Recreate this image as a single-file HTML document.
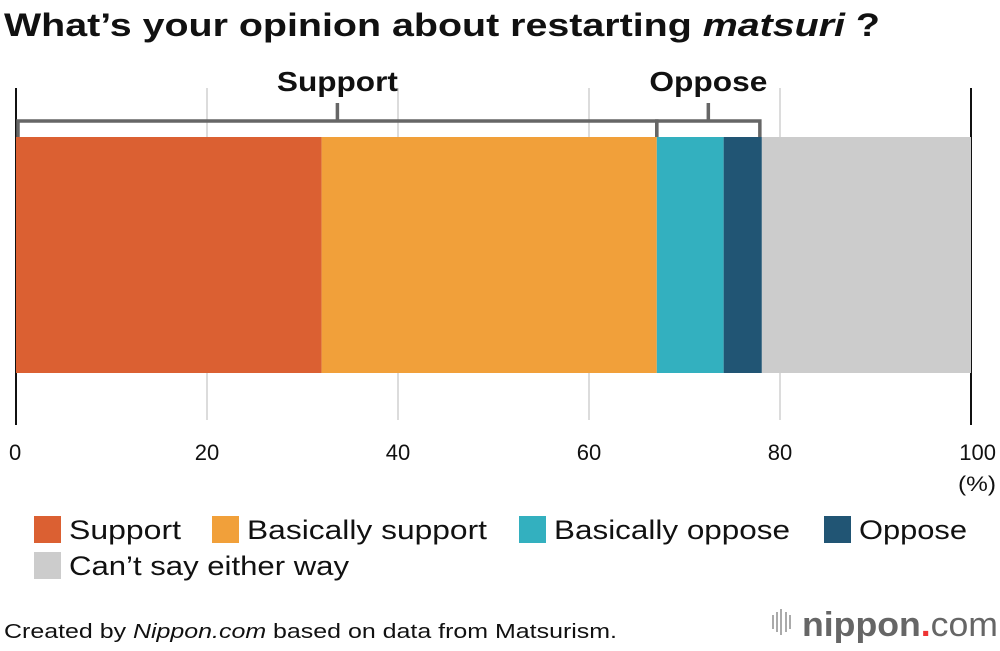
<!DOCTYPE html>
<html><head><meta charset="utf-8"><style>
body{margin:0;width:1000px;height:646px;background:#fff;overflow:hidden;font-family:"Liberation Sans",Arial,sans-serif}
</style></head><body>
<svg width="1000" height="646" xmlns="http://www.w3.org/2000/svg">
<text x="4" y="36" font-size="32" font-weight="bold" fill="#111" textLength="876" lengthAdjust="spacingAndGlyphs">What’s your opinion about restarting <tspan font-style="italic">matsuri</tspan> ?</text>
<g id="grid"></g>
<g id="bars"></g>
<g id="brackets"></g>
<g id="ticks"></g>
<text x="958" y="491" font-size="21" fill="#111" textLength="38" lengthAdjust="spacingAndGlyphs">(%)</text>
<g id="legend"></g>
<text x="4" y="638" font-size="20" fill="#111" textLength="613" lengthAdjust="spacingAndGlyphs">Created by <tspan font-style="italic">Nippon.com</tspan> based on data from Matsurism.</text>
<g>
<g fill="#aaa"><rect x="772" y="615" width="2" height="14"/><rect x="776" y="612" width="2" height="20"/><rect x="780" y="609" width="2" height="26"/><rect x="785" y="612" width="2" height="20"/><rect x="789" y="615" width="2" height="14"/></g>
<text x="802" y="636" font-size="34" fill="#666" font-weight="bold" textLength="196" lengthAdjust="spacingAndGlyphs">nippon<tspan fill="#e33">.</tspan><tspan font-weight="normal">com</tspan></text>
</g>
</svg>
<script>
const categories=["Support","Basically support","Basically oppose","Oppose","Can't say either way"];
const values=[32,35.1,7,4,21.9];
const colors=["#db6032","#f1a03a","#33b0bf","#215574","#cccccc"];
const tickValues=[0,20,40,60,80,100];
const groupLabels=["Support","Oppose"];
const groupSpans=[[0,2],[2,4]];
const NS="http://www.w3.org/2000/svg";
const x=v=>16+v*9.55;
const legW=[112,240,236,108,280];
const grpW=[121,118];
function el(t,a,p){const e=document.createElementNS(NS,t);for(const k in a)e.setAttribute(k,a[k]);document.getElementById(p).appendChild(e);return e;}
tickValues.forEach(v=>{
  const edge=(v===0||v===100);
  const g=el('line',{x1:x(v),x2:x(v),y1:88,y2:edge?425:420,stroke:edge?'#111':'#d0d0d0','stroke-width':edge?2:1.5},'grid');
  
  
  const t=el('text',{x:x(v)+(v===100?0:0),y:460,'font-size':22,'text-anchor':'middle',fill:'#111'},'ticks');
  if(v===100){t.setAttribute('text-anchor','end');t.setAttribute('x',996);}
  if(v===0){t.setAttribute('text-anchor','start');t.setAttribute('x',9);}
  t.textContent=v;
  
  
});
let cum=0;const cums=[0];
values.forEach((v,i)=>{
  const r=el('rect',{x:x(cum),y:137,width:x(cum+v)-x(cum),height:236,fill:colors[i]},'bars');
  
  
  cum+=v;cums.push(cum);
});
groupSpans.forEach((s,i)=>{
  const a=x(cums[s[0]])+(i===0?2:0),b=x(cums[s[1]])-(i===1?2:0),m=(a+b)/2;
  const p=el('path',{d:`M${a},137 V121 H${b} V137 M${m},121 V103`,fill:'none',stroke:'#666','stroke-width':3.5},'brackets');
  
  
  const t=el('text',{x:m-grpW[i]/2,y:91,'font-size':28,'font-weight':'bold',fill:'#111',textLength:grpW[i],lengthAdjust:'spacingAndGlyphs'},'brackets');
  t.textContent=groupLabels[i];
  
  
});
const legPos=[[34,516],[212,516],[519,516],[824,516],[34,552]];
categories.forEach((c,i)=>{
  const r=el('rect',{x:legPos[i][0],y:legPos[i][1],width:27,height:27,fill:colors[i]},'legend');
  
  
  const t=el('text',{x:legPos[i][0]+35,y:legPos[i][1]+23,'font-size':27,fill:'#111',textLength:legW[i],lengthAdjust:'spacingAndGlyphs'},'legend');
  t.textContent=c.replace("'","’");
  
  
});
</script>
</body></html>
